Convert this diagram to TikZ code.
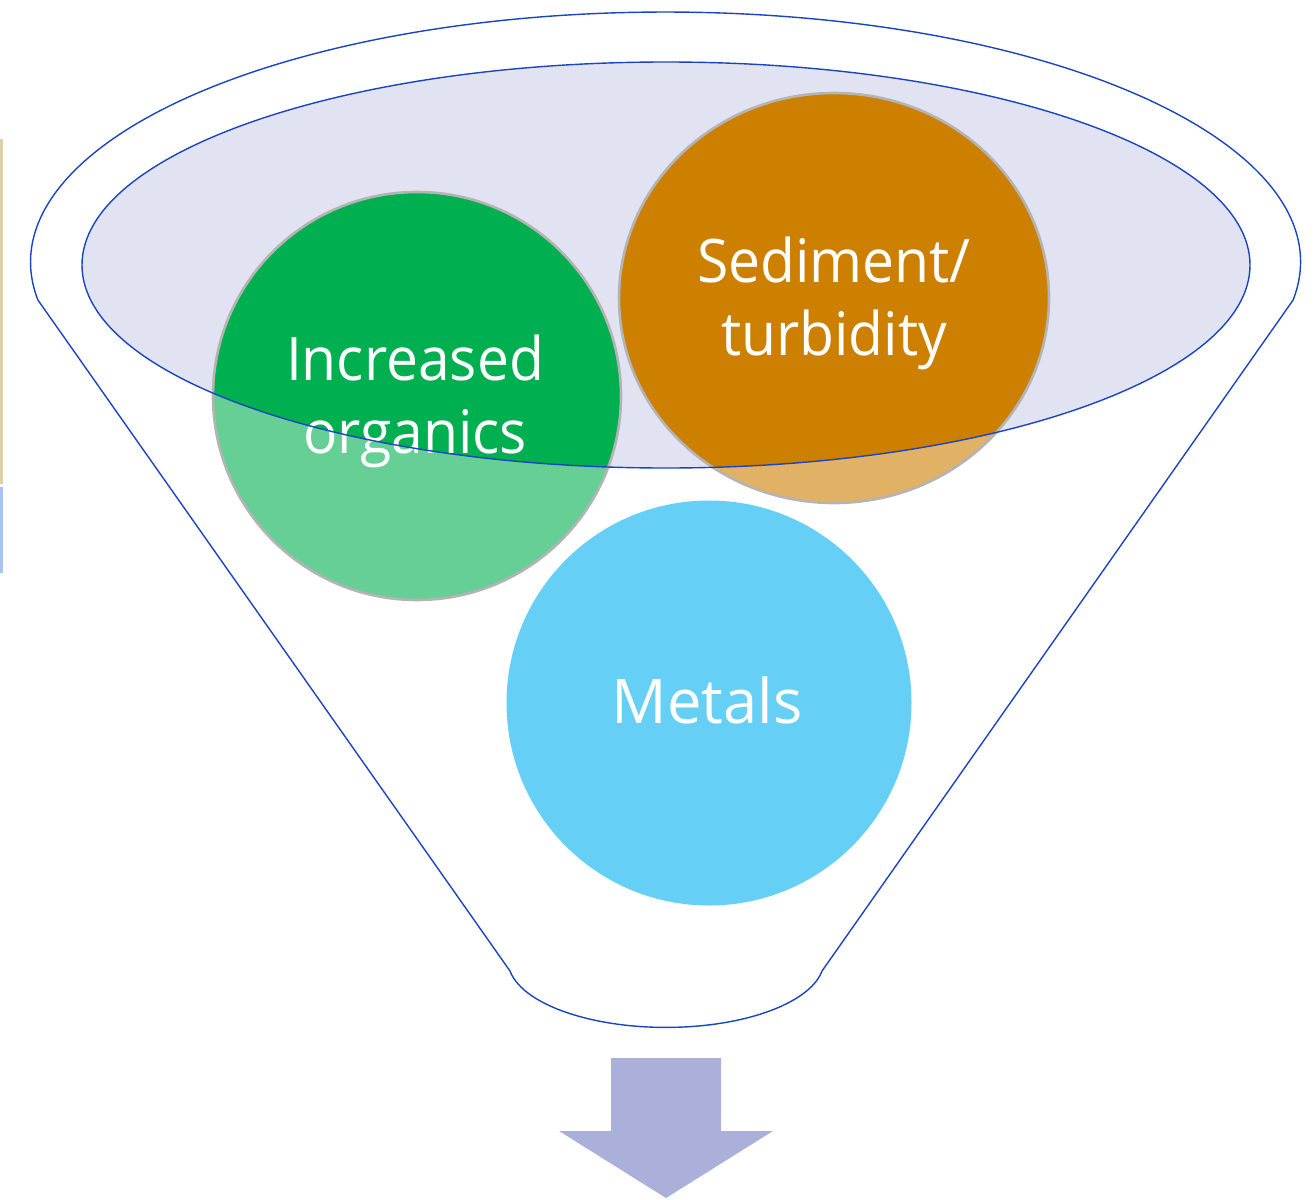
\documentclass[tikz,border=0pt]{standalone}
\usepackage{fontspec}
\setmainfont{Open Sans}
\newfontfamily\narrowfont[FakeStretch=0.95]{Open Sans}
\definecolor{funnelblue}{HTML}{1A45BE}
\definecolor{lav}{HTML}{E1E3F3}
\definecolor{cgreen}{HTML}{00B050}
\definecolor{corange}{HTML}{CD8000}
\definecolor{cblue}{HTML}{00B0F0}
\definecolor{rimgray}{HTML}{B4B4B4}
\definecolor{arrowfill}{HTML}{AAB0DA}
\definecolor{khaki}{HTML}{D8D2A6}
\definecolor{edgeblue}{HTML}{A8C4F0}
\tikzset{
  funnelline/.style={draw=funnelblue, line width=1.4pt},
  rim/.style={draw=rimgray, line width=2.6pt},
  label/.style={text=white, font=\narrowfont\fontsize{60}{73}\selectfont, anchor=base, inner sep=0pt},
  biglabel/.style={text=white, font=\fontsize{61.5}{73}\selectfont, anchor=base, inner sep=0pt},
}
\begin{document}
\begin{tikzpicture}[x=1pt,y=-1pt]
\useasboundingbox (0,0) rectangle (1314,1199);
\fill[white] (0,0) rectangle (1314,1199);
% edge artifacts
\fill[khaki] (0,139) rectangle (3,484);
\fill[edgeblue] (0,487) rectangle (2.5,573);
% inner lid fill
\fill[lav] (666,265) ellipse [x radius=584, y radius=203];
% faded circles
\fill[cgreen, opacity=0.6] (417,396) circle [radius=204];
\fill[corange, opacity=0.6] (834,298) ellipse [x radius=215, y radius=205];
\fill[cblue, opacity=0.6] (709,703) circle [radius=202.5];
% full colour inside the lid
\begin{scope}
  \clip (666,265) ellipse [x radius=584, y radius=203];
  \fill[cgreen] (417,396) circle [radius=204];
  \fill[corange] (834,298) ellipse [x radius=215, y radius=205];
\end{scope}
\draw[rim] (417,396) circle [radius=204];
\draw[rim] (834,298) ellipse [x radius=215, y radius=205];
% texts
\node[label] (inc) at (415,380) {Increased};
\node[label] (org) at (415,453) {organics};
\node[label] (sed) at (834,282) {Sediment/};
\node[label] (tur) at (834,355) {turbidity};
\node[biglabel] (met) at (707,723) {Metals};
% funnel outline
\coordinate (jr) at (1293.1,300);
\coordinate (bl) at (510,971);
\draw[funnelline] (jr) arc[start angle=8.74, end angle=-188.74, x radius=635, y radius=250]
  -- (bl) arc[start angle=170.9, end angle=9.1, x radius=158, y radius=67] -- cycle;
\draw[funnelline] (666,265) ellipse [x radius=584, y radius=203];
% arrow
\fill[arrowfill] (611,1058) -- (721,1058) -- (721,1131) -- (773,1131) -- (666,1198) -- (559,1131) -- (611,1131) -- cycle;
\end{tikzpicture}
\end{document}
